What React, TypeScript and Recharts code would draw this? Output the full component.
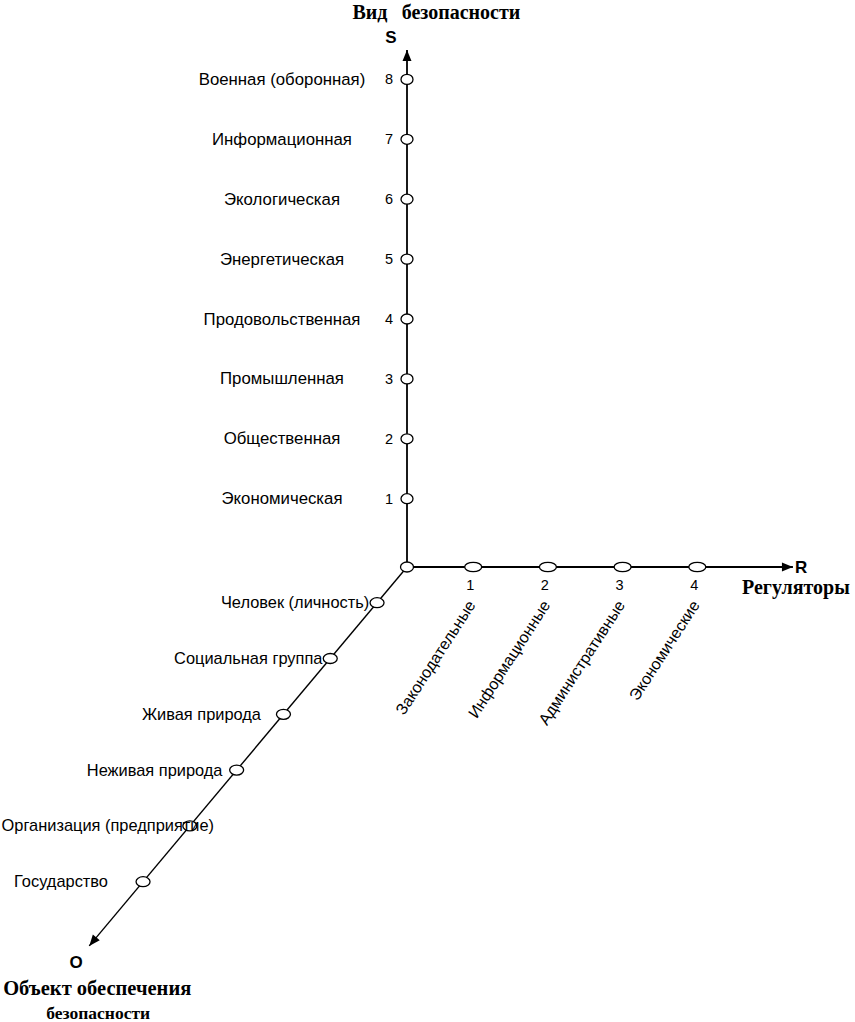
import React from "react";
import { ScatterChart, Scatter, XAxis, YAxis } from "recharts";

// S axis: kinds of security (bottom to top)
const sLevels = [1, 2, 3, 4, 5, 6, 7, 8];
const sNames = [
  "Экономическая",
  "Общественная",
  "Промышленная",
  "Продовольственная",
  "Энергетическая",
  "Экологическая",
  "Информационная",
  "Военная (оборонная)",
];

// R axis: regulators
const rLevels = [1, 2, 3, 4];
const rNames = ["Законодательные", "Информационные", "Административные", "Экономические"];

// O axis: objects of security (from the origin outwards)
const oLevels = [1, 2, 3, 4, 5, 6];
const oNames = [
  "Человек (личность)",
  "Социальная группа",
  "Живая природа",
  "Неживая природа",
  "Организация (предприятие)",
  "Государство",
];

// layout of the drawing (px)
const W = 855;
const H = 1022;
const X0 = 398.5; // px of R rank 0
const PX_X = 74.7; // px per R rank
const Y0 = 558.6; // px of S rank 0
const PX_Y = 59.9; // px per S rank
const CORNER = { x: (407 - X0) / PX_X, y: -(567 - Y0) / PX_Y }; // where the axes meet
const O_STEP = { x: -46.8 / PX_X, y: -55.8 / PX_Y }; // one O rank along the oblique axis
const O_LAG = 0.36; // first O rank sits a little short of a full step
const S_END = 8.49;
const R_END = 5.28;
const O_END = 6.79;

const SANS = "'Liberation Sans', Arial, sans-serif";
const SERIF = "'Liberation Serif', 'Times New Roman', serif";

const xDomain = [-X0 / PX_X, (W - X0) / PX_X];
const yDomain = [-(H - Y0) / PX_Y, Y0 / PX_Y];

const oAt = (t: number) => ({ x: CORNER.x + t * O_STEP.x, y: CORNER.y + t * O_STEP.y });

const sData = sLevels.map((v, i) => ({ x: CORNER.x, y: v, num: v, name: sNames[i] }));
const rData = rLevels.map((v, i) => ({ x: v, y: CORNER.y, num: v, name: rNames[i] }));
const oData = oLevels.map((v, i) => ({ ...oAt(v - O_LAG), name: oNames[i] }));
const originData = [CORNER];

const sLine = [CORNER, { x: CORNER.x, y: S_END }];
const rLine = [CORNER, { x: R_END, y: CORNER.y }];
const oLine = [CORNER, oAt(O_END)];

const ends = [
  { x: CORNER.x, y: S_END, axis: "S" },
  { x: R_END, y: CORNER.y, axis: "R" },
  { ...oAt(O_END), axis: "O" },
];

const none = () => <g />;

const SMarker = (p: any) => (
  <g>
    <ellipse cx={p.cx} cy={p.cy} rx={6} ry={5} fill="#fff" stroke="#000" strokeWidth={1.3} />
    <text x={p.cx - 18} y={p.cy + 5} textAnchor="middle" fontFamily={SANS} fontSize={14.5} fill="#000">
      {p.payload.num}
    </text>
    <text x={p.cx - 125} y={p.cy + 5.5} textAnchor="middle" fontFamily={SANS} fontSize={16.8} fill="#000">
      {p.payload.name}
    </text>
  </g>
);

const RMarker = (p: any) => {
  const tx = p.cx + 3;
  const ty = p.cy + 38;
  return (
    <g>
      <ellipse cx={p.cx} cy={p.cy} rx={8.5} ry={4.7} fill="#fff" stroke="#000" strokeWidth={1.3} />
      <text x={p.cx - 3} y={p.cy + 23} textAnchor="middle" fontFamily={SANS} fontSize={14.5} fill="#000">
        {p.payload.num}
      </text>
      <text
        x={tx}
        y={ty}
        textAnchor="end"
        transform={`rotate(-57 ${tx} ${ty})`}
        fontFamily={SANS}
        fontSize={16}
        fill="#000"
      >
        {p.payload.name}
      </text>
    </g>
  );
};

const OMarker = (p: any) => (
  <g>
    <ellipse cx={p.cx} cy={p.cy} rx={7} ry={5} fill="#fff" stroke="#000" strokeWidth={1.3} />
    <text x={p.cx - 82} y={p.cy + 5.5} textAnchor="middle" fontFamily={SANS} fontSize={16.4} fill="#000">
      {p.payload.name}
    </text>
  </g>
);

const OriginMarker = (p: any) => (
  <ellipse cx={p.cx} cy={p.cy} rx={6.5} ry={5} fill="#fff" stroke="#000" strokeWidth={1.3} />
);

const arrowHead = (cx: number, cy: number, ux: number, uy: number) => {
  const len = 11;
  const half = 4.5;
  const bx = cx - ux * len;
  const by = cy - uy * len;
  const px = -uy;
  const py = ux;
  return `${cx},${cy} ${bx + px * half},${by + py * half} ${bx - px * half},${by - py * half}`;
};

const AxisEnd = (p: any) => {
  const { cx, cy } = p;
  const axis = p.payload.axis;
  if (axis === "S") {
    return (
      <g>
        <polygon points={arrowHead(cx, cy, 0, -1)} fill="#000" />
        <text x={cx - 16} y={cy - 7} textAnchor="middle" fontFamily={SANS} fontWeight="bold" fontSize={17}>
          S
        </text>
        <text x={cx - 37} y={cy - 31} textAnchor="middle" fontFamily={SERIF} fontWeight="bold" fontSize={20}>
          Вид
        </text>
        <text x={cx + 54} y={cy - 31} textAnchor="middle" fontFamily={SERIF} fontWeight="bold" fontSize={20}>
          безопасности
        </text>
      </g>
    );
  }
  if (axis === "R") {
    return (
      <g>
        <polygon points={arrowHead(cx, cy, 1, 0)} fill="#000" />
        <text x={cx + 2} y={cy + 6} fontFamily={SANS} fontWeight="bold" fontSize={17}>
          R
        </text>
        <text x={cx + 3} y={cy + 27} textAnchor="middle" fontFamily={SERIF} fontWeight="bold" fontSize={20}>
          Регуляторы
        </text>
      </g>
    );
  }
  const dx = O_STEP.x * PX_X;
  const dy = -O_STEP.y * PX_Y;
  const d = Math.hypot(dx, dy);
  return (
    <g>
      <polygon points={arrowHead(cx, cy, dx / d, dy / d)} fill="#000" />
      <text x={cx - 13} y={cy + 22} textAnchor="middle" fontFamily={SANS} fontWeight="bold" fontSize={17}>
        O
      </text>
      <text x={cx + 8} y={cy + 49} textAnchor="middle" fontFamily={SERIF} fontWeight="bold" fontSize={20.5}>
        Объект обеспечения
      </text>
      <text x={cx + 9} y={cy + 73} textAnchor="middle" fontFamily={SERIF} fontWeight="bold" fontSize={17.5}>
        безопасности
      </text>
    </g>
  );
};

const lineStyle = { stroke: "#000", strokeWidth: 1.8 };

export default function App() {
  return (
    <div style={{ position: "absolute", left: 0, top: 0, background: "#fff" }}>
      <ScatterChart width={W} height={H} margin={{ top: 0, right: 0, bottom: 0, left: 0 }}>
        <XAxis type="number" dataKey="x" domain={xDomain} allowDataOverflow hide />
        <YAxis type="number" dataKey="y" domain={yDomain} allowDataOverflow hide />
        <Scatter data={sLine} line={lineStyle} shape={none} isAnimationActive={false} />
        <Scatter data={rLine} line={lineStyle} shape={none} isAnimationActive={false} />
        <Scatter data={oLine} line={{ stroke: "#000", strokeWidth: 1.4 }} shape={none} isAnimationActive={false} />
        <Scatter data={ends} shape={AxisEnd} isAnimationActive={false} />
        <Scatter data={sData} shape={SMarker} isAnimationActive={false} />
        <Scatter data={rData} shape={RMarker} isAnimationActive={false} />
        <Scatter data={oData} shape={OMarker} isAnimationActive={false} />
        <Scatter data={originData} shape={OriginMarker} isAnimationActive={false} />
      </ScatterChart>
    </div>
  );
}
